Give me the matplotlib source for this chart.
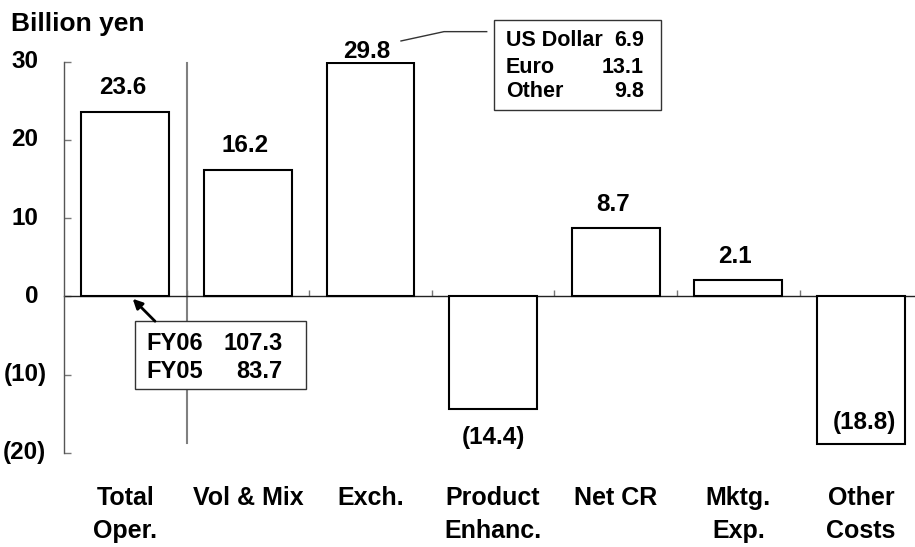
import matplotlib
matplotlib.use("Agg")
import matplotlib.pyplot as plt
import matplotlib.transforms as mtransforms
from matplotlib.patches import Rectangle

# Operating income change drivers (billion yen)
categories = ["Total\nOper.", "Vol & Mix", "Exch.", "Product\nEnhanc.",
              "Net CR", "Mktg.\nExp.", "Other\nCosts"]
values = [23.6, 16.2, 29.8, -14.4, 8.7, 2.1, -18.8]
value_labels = ["23.6", "16.2", "29.8", "(14.4)", "8.7", "2.1", "(18.8)"]

y_ticks = [-20, -10, 0, 10, 20, 30]
y_tick_labels = ["(20)", "(10)", "0", "10", "20", "30"]

# Exchange breakdown
fx_names = ["US Dollar", "Euro", "Other"]
fx_values = ["6.9", "13.1", "9.8"]

# Total operating income, current vs prior year
fy_names = ["FY06", "FY05"]
fy_values = ["107.3", "83.7"]

FONT = "Liberation Sans"
plt.rcParams["font.family"] = [FONT, "DejaVu Sans"]
plt.rcParams["font.weight"] = "bold"

W, H, DPI = 915, 547, 100
fig = plt.figure(figsize=(W / DPI, H / DPI), dpi=DPI)
fig.patch.set_facecolor("white")

ax_left_px, ax_top_px, ax_bot_px = 64, 61.7, 453
ax = fig.add_axes([ax_left_px / W, 1 - ax_bot_px / H, 1 - ax_left_px / W,
                   (ax_bot_px - ax_top_px) / H])
unit_px = 122.6
ax.set_xlim(0, (W - ax_left_px) / unit_px)
ax.set_ylim(-20, 30)

# helpers: figure pixel -> data
y0_px = 296.0
ppu_y = (y0_px - ax_top_px) / 30.0
def dx(px):
    return (px - ax_left_px) / unit_px
def dy(py):
    return (y0_px - py) / ppu_y

centers = [i + 0.5 for i in range(len(values))]
ax.bar(centers, values, width=0.715, color="white", edgecolor="black",
       linewidth=1.5, zorder=3)

# spines / ticks
for s in ["top", "right"]:
    ax.spines[s].set_visible(False)
ax.spines["left"].set_color("#555555")
ax.spines["left"].set_linewidth(1.0)
ax.spines["bottom"].set_position(("data", 0))
ax.spines["bottom"].set_color("#222222")
ax.spines["bottom"].set_linewidth(1.0)
ax.spines["bottom"].set_zorder(2)

ax.set_yticks(y_ticks)
ax.tick_params(axis="y", direction="in", length=5, width=1, color="#777777",
               labelleft=False)
ax.set_xticks(list(range(1, len(values))))
ax.tick_params(axis="x", direction="in", length=4.5, width=1, color="#777777",
               labelbottom=False)

# y tick labels in accounting style: positives leave room for ")"
ylab_tr = mtransforms.blended_transform_factory(fig.transFigure, ax.transData)
for t, lab in zip(y_ticks, y_tick_labels):
    right_px = 46.5 if lab.startswith("(") else 38.0
    ax.text(right_px / W, t, lab, ha="right", va="center", fontsize=17.5,
            fontweight="bold", transform=ylab_tr, clip_on=False)

# category labels under the plot, one text per line
line_baselines = [504, 536.7]
for c, lab in zip(centers, categories):
    for line, base in zip(lab.split("\n"), line_baselines):
        ax.text(c, dy(base), line, ha="center", va="baseline", fontsize=18,
                fontweight="bold", clip_on=False)

# value labels
for c, v, lab in zip(centers, values, value_labels):
    if lab == "29.8":
        ax.annotate(lab, (c, v), xytext=(-4, 5), textcoords="offset pixels",
                    ha="center", va="baseline", fontsize=17.5,
                    fontweight="bold", annotation_clip=False)
    elif v >= 0:
        ax.annotate(lab, (c, v), xytext=(-3, 17.5), textcoords="offset pixels",
                    ha="center", va="baseline", fontsize=17.5,
                    fontweight="bold")
    elif lab == "(18.8)":
        ax.annotate(lab, (c, v), xytext=(4, 15), textcoords="offset pixels",
                    ha="center", va="baseline", fontsize=17.5,
                    fontweight="bold", zorder=5)
    else:
        ax.annotate(lab, (c, v), xytext=(0, -17), textcoords="offset pixels",
                    ha="center", va="top", fontsize=17.5, fontweight="bold")

# separator after total
ax.plot([1.0, 1.0], [dy(442), dy(63)], color="#808080", lw=1.5, zorder=1,
        clip_on=False)

# y-axis unit title
fig.text(11 / W, 1 - 31 / H, "Billion yen", ha="left", va="baseline",
         fontsize=19, fontweight="bold")

# exchange callout box
bx0, bx1, by0, by1 = dx(494), dx(660.7), dy(110), dy(19.7)
ax.add_patch(Rectangle((bx0, by0), bx1 - bx0, by1 - by0, facecolor="white",
                       edgecolor="#333333", lw=1.0, clip_on=False, zorder=4))
for name, val, base in zip(fx_names, fx_values, [45.7, 72.7, 96.7]):
    ax.text(dx(506), dy(base), name, ha="left", va="baseline", fontsize=15.5,
            fontweight="bold", zorder=5, clip_on=False)
    ax.text(dx(644), dy(base), val, ha="right", va="baseline", fontsize=15.5,
            fontweight="bold", zorder=5, clip_on=False)
ax.plot([dx(401), dx(444), dx(486.7)], [dy(41), dy(31.7), dy(31.7)],
        color="#333333", lw=1.0, clip_on=False, zorder=4)

# FY totals callout box
fx0, fx1, fy0, fy1 = dx(135), dx(305.7), dy(388.3), dy(320.7)
ax.add_patch(Rectangle((fx0, fy0), fx1 - fx0, fy1 - fy0, facecolor="white",
                       edgecolor="#333333", lw=1.0, zorder=4))
for name, val, base in zip(fy_names, fy_values, [349, 377.7]):
    ax.text(dx(146.7), dy(base), name, ha="left", va="baseline", fontsize=17,
            fontweight="bold", zorder=5)
    ax.text(dx(282.7), dy(base), val, ha="right", va="baseline", fontsize=17,
            fontweight="bold", zorder=5)
ax.annotate("", xy=(dx(132.7), dy(298.3)), xytext=(dx(155), dy(320.7)),
            arrowprops=dict(arrowstyle="-|>", color="black", lw=2,
                            mutation_scale=14, shrinkA=0, shrinkB=0),
            zorder=6)

fig.savefig("out.png", dpi=DPI, facecolor="white")
